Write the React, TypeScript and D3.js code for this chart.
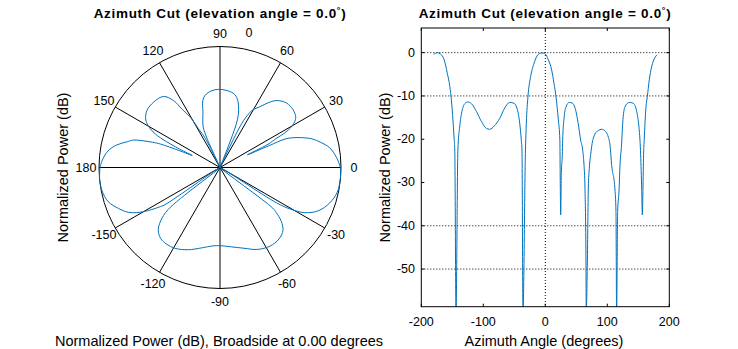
import React from "react";
import * as d3 from "d3";

// Azimuth cut data (degrees, normalized power in dB)
const azimuthDeg: number[] = [
  -180, -174, -169, -163, -158, -154, -151.5, -149, -147, -146, -144, -141, -138, -134.5, -130,
  -125, -119, -111, -103, -95, -90, -82, -73.5, -65.5, -57.5, -50.5, -45, -41.3, -38.7, -37.6,
  -36, -32, -30.6, -28, -23.6, -18, -12, -6.5, -2, 0, 5, 10.3, 14, 17.3, 21, 23.5, 24, 24.8,
  25.8, 27.4, 28, 30, 33.4, 38.7, 44, 49.5, 53, 57, 60.3, 62.4, 64, 65.6, 66, 67.8, 69.4, 71,
  73.5, 75.5, 77.4, 80, 85.5, 91, 96.3, 101.6, 104.5, 107, 112.4, 114, 115, 116.7, 119, 120.5,
  123, 124.8, 128.5, 135.5, 142, 147.4, 151, 152.7, 153.8, 155.5, 156.5, 157.5, 158.5, 159.5,
  162.4, 164.5, 167.7, 171.6, 177, 180,
];
const powerDb: number[] = [
  -0.4, 0, -0.3, -1.7, -4.8, -7.8, -10.9, -15.5, -20, -22.5, -60, -22.5, -17, -13.6, -11.8,
  -11.4, -11.8, -13.6, -15.9, -17.5, -17.7, -16.9, -15.2, -12.8, -11.5, -11.7, -13.2, -16.3, -20.2, -22.5,
  -60, -22.5, -16.3, -10.2, -5.5, -2.4, -0.5, -0.1, -0.1, -0.3, -1.7, -4, -7.1, -10.2, -15.5, -20.2, -28, -37.5,
  -28, -23.6, -20.2, -15.5, -12.5, -11.5, -11.7, -13.6, -16.3, -20.2, -22.5, -25.9, -31.3, -48.6, -60, -48.6, -31.3, -26.7,
  -23.2, -21, -19.8, -18.8, -18, -17.7, -18.1, -19.5, -21.5, -25.9, -31.7, -36.7, -60, -36.7, -31.7, -25.9,
  -21.3, -16.3, -12.5, -11.5, -11.7, -13.6, -17.1, -20.2, -23.6, -31.7, -37.5, -31.7, -23.6, -20.2,
  -12.5, -10.2, -6.3, -3.2, -1.1, -0.5,
];

const xTicks: number[] = [-200, -100, 0, 100, 200];
const yTicks: number[] = [0, -10, -20, -30, -40, -50];
const yGridTicks: number[] = [0, -10, -40, -50];
const xGridTicks: number[] = [0];
const polarAngles: number[] = [0, 30, 60, 90, 120, 150, 180, -150, -120, -90, -60, -30];
const polarDbRange: number[] = [-50, 0];

const titleText = "Azimuth Cut (elevation angle = 0.0";
const polarLabel = "Normalized Power (dB), Broadside at 0.00 degrees";
const yLabel = "Normalized Power (dB)";
const xLabel = "Azimuth Angle (degrees)";

const FONT = "'Liberation Sans', Arial, Helvetica, sans-serif";
const BLUE = "#0072BD";

const data = azimuthDeg.map((a, i) => ({ a, p: powerDb[i] }));

function Title({ x, y }: { x: number; y: number }) {
  return (
    <text
      x={x}
      y={y}
      textAnchor="middle"
      fontFamily={FONT}
      fontWeight="bold"
      fontSize={13.5}
      letterSpacing={0.7}
      fill="#000"
    >
      {titleText}
      <tspan dy={-5} fontSize={9}>°</tspan>
      <tspan dy={5}>)</tspan>
    </text>
  );
}

export default function App() {
  // ---- Polar plot ----
  const cx = 220;
  const cy = 167.5;
  const R = 121;
  const rScale = d3.scaleLinear().domain(polarDbRange).range([0, R]).clamp(true);
  const toRad = (d: number) => (d * Math.PI) / 180;
  const polarLine = d3
    .line<{ a: number; p: number }>()
    .x((d) => cx + rScale(d.p) * Math.cos(toRad(d.a)))
    .y((d) => cy - rScale(d.p) * Math.sin(toRad(d.a)))
    .curve(d3.curveCatmullRom.alpha(0.5));

  // ---- Cartesian plot ----
  const x = d3.scaleLinear().domain([-200, 200]).range([421.3, 669.3]);
  const y = d3.scaleLinear().domain([-58.7, 5.7]).range([306.7, 28]);
  const [x0, x1] = x.range();
  const [yb, yt] = y.range();
  const cartLine = d3
    .line<{ a: number; p: number }>()
    .x((d) => x(d.a))
    .y((d) => y(d.p))
    .curve(d3.curveMonotoneX);

  const tickLen = 3;

  return (
    <svg
      width={738}
      height={349}
      style={{ position: "absolute", left: 0, top: 0, background: "#fff" }}
    >
      <defs>
        <clipPath id="cartClip">
          <rect x={x0} y={yt} width={x1 - x0} height={yb - yt} />
        </clipPath>
      </defs>
      <rect x={0} y={0} width={738} height={349} fill="#fff" />

      {/* ===== Polar ===== */}
      <Title x={220} y={18} />
      <circle cx={cx} cy={cy} r={R} fill="none" stroke="#000" strokeWidth={1} />
      {polarAngles.map((a) => (
        <line
          key={"sp" + a}
          x1={cx}
          y1={cy}
          x2={cx + R * Math.cos(toRad(a))}
          y2={cy - R * Math.sin(toRad(a))}
          stroke="#000"
          strokeWidth={1}
        />
      ))}
      {polarAngles.map((a) => (
        <text
          key={"pl" + a}
          x={cx + (R + 13) * Math.cos(toRad(a))}
          y={cy - (R + 13) * Math.sin(toRad(a))}
          textAnchor="middle"
          dominantBaseline="central"
          fontFamily={FONT}
          fontSize={12.5}
          fill="#000"
        >
          {a}
        </text>
      ))}
      <text x={249} y={33} textAnchor="middle" dominantBaseline="central" fontFamily={FONT} fontSize={12.5}>
        0
      </text>
      <path d={polarLine(data) ?? ""} fill="none" stroke={BLUE} strokeWidth={1} />
      <text
        transform={`translate(63,${cy}) rotate(-90)`}
        textAnchor="middle"
        dominantBaseline="central"
        fontFamily={FONT}
        fontSize={14.5}
      >
        {yLabel}
      </text>
      <text x={219} y={346} textAnchor="middle" fontFamily={FONT} fontSize={14.5}>
        {polarLabel}
      </text>

      {/* ===== Cartesian ===== */}
      <Title x={545} y={18} />
      {yGridTicks.map((t) => (
        <line
          key={"yg" + t}
          x1={x0}
          x2={x1}
          y1={y(t)}
          y2={y(t)}
          stroke="#000"
          strokeWidth={1}
          strokeDasharray="1,2"
        />
      ))}
      {xGridTicks.map((t) => (
        <line
          key={"xg" + t}
          x1={x(t)}
          x2={x(t)}
          y1={yt}
          y2={yb}
          stroke="#000"
          strokeWidth={1}
          strokeDasharray="1,2"
        />
      ))}
      <path d={cartLine(data) ?? ""} fill="none" stroke={BLUE} strokeWidth={1} clipPath="url(#cartClip)" />
      <rect x={x0} y={yt} width={x1 - x0} height={yb - yt} fill="none" stroke="#000" strokeWidth={1} />
      {xTicks.map((t) => (
        <g key={"xt" + t}>
          <line x1={x(t)} x2={x(t)} y1={yb} y2={yb - tickLen} stroke="#000" />
          <line x1={x(t)} x2={x(t)} y1={yt} y2={yt + tickLen} stroke="#000" />
          <text x={x(t)} y={322} textAnchor="middle" dominantBaseline="central" fontFamily={FONT} fontSize={12.5}>
            {t}
          </text>
        </g>
      ))}
      {yTicks.map((t) => (
        <g key={"yt" + t}>
          <line x1={x0} x2={x0 + tickLen} y1={y(t)} y2={y(t)} stroke="#000" />
          <line x1={x1} x2={x1 - tickLen} y1={y(t)} y2={y(t)} stroke="#000" />
          <text x={415} y={y(t)} textAnchor="end" dominantBaseline="central" fontFamily={FONT} fontSize={12.5}>
            {t}
          </text>
        </g>
      ))}
      <text
        transform={`translate(385,${cy}) rotate(-90)`}
        textAnchor="middle"
        dominantBaseline="central"
        fontFamily={FONT}
        fontSize={14.5}
      >
        {yLabel}
      </text>
      <text x={544} y={346} textAnchor="middle" fontFamily={FONT} fontSize={14.5}>
        {xLabel}
      </text>
    </svg>
  );
}
